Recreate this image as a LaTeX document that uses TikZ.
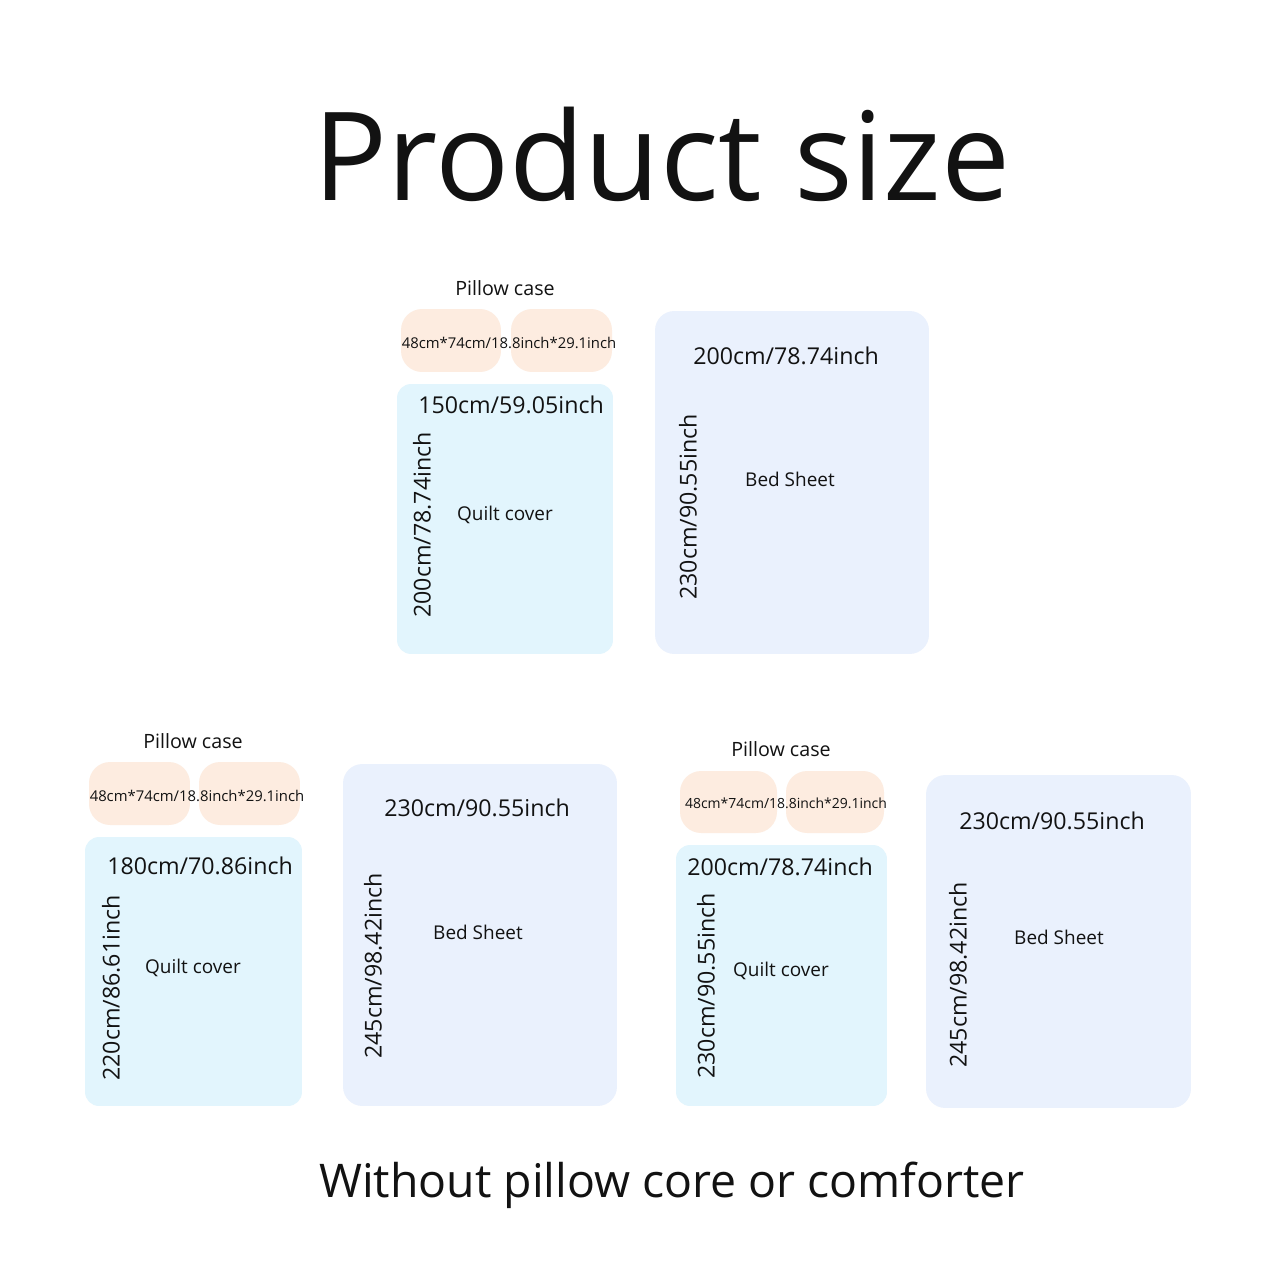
\documentclass[tikz,border=0pt]{standalone}
\usepackage{fontspec}
\setmainfont{Open Sans}
\usetikzlibrary{positioning}
\definecolor{pillowFill}{RGB}{253,236,224}
\definecolor{quiltFill}{RGB}{226,245,253}
\definecolor{sheetFill}{RGB}{234,241,253}
\definecolor{inkBlack}{RGB}{18,18,18}
\tikzset{
	pbox/.style={
		fill=pillowFill,
		rounded corners=12pt,
		inner sep=0pt,
		minimum height=1.26cm
	},
	qbox/.style={
		fill=quiltFill,
		rounded corners=8pt,
		inner sep=0pt
	},
	sbox/.style={
		fill=sheetFill,
		rounded corners=11pt,
		inner sep=0pt
	},
	dimlbl/.style={text=inkBlack, inner sep=0pt, font=\fontsize{13.2}{16}\selectfont},
	namelbl/.style={text=inkBlack, inner sep=0pt, font=\fontsize{10.8}{13}\selectfont},
	plbl/.style={text=inkBlack, inner sep=0pt, font=\fontsize{8.45}{10}\selectfont}
}

\begin{document}
\begin{tikzpicture}[x=0.02cm, y=-0.02cm]
		\useasboundingbox[fill=white] (0,0) rectangle (1280,1280);
		\node[text=inkBlack, inner sep=0pt, font=\fontsize{70}{80}\selectfont] (title) at (662,154) {Product size};
		% top set
		\node[namelbl, font=\fontsize{11.2}{13}\selectfont] (pcTop) at (505,288) {Pillow case};
		\node[pbox, minimum width=2.0cm] (pTopA) at (451,340.5) {};
		\node[pbox, minimum width=2.02cm] (pTopB) at (561.5,340.5) {};
		\node[plbl] (pTopTxt) at (509,343) {48cm*74cm/18.8inch*29.1inch};
		\node[qbox, minimum width=4.32cm, minimum height=5.4cm] (qTop) at (505,519) {};
		\node[dimlbl] (qTopW) at (511,405) {150cm/59.05inch};
		\node[dimlbl, rotate=90] (qTopH) at (422,525) {200cm/78.74inch};
		\node[namelbl] (qTopTxt) at (505,515) {Quilt cover};
		\node[sbox, minimum width=5.48cm, minimum height=6.86cm] (sTop) at (792,482.5) {};
		\node[dimlbl] (sTopW) at (786,356) {200cm/78.74inch};
		\node[dimlbl, rotate=90] (sTopH) at (688,507) {230cm/90.55inch};
		\node[namelbl] (sTopTxt) at (790,479) {Bed Sheet};
		% bottom left set
		\node[namelbl, font=\fontsize{11.2}{13}\selectfont] (pcLeft) at (193,741) {Pillow case};
		\node[pbox, minimum width=2.02cm] (pLeftA) at (139.5,793.5) {};
		\node[pbox, minimum width=2.02cm] (pLeftB) at (249.5,793.5) {};
		\node[plbl] (pLeftTxt) at (197,796) {48cm*74cm/18.8inch*29.1inch};
		\node[qbox, minimum width=4.34cm, minimum height=5.38cm] (qLeft) at (193.5,971.5) {};
		\node[dimlbl] (qLeftW) at (200,866) {180cm/70.86inch};
		\node[dimlbl, rotate=90] (qLeftH) at (111,988) {220cm/86.61inch};
		\node[namelbl] (qLeftTxt) at (193,968) {Quilt cover};
		\node[sbox, minimum width=5.48cm, minimum height=6.84cm] (sLeft) at (480,935) {};
		\node[dimlbl] (sLeftW) at (477,808) {230cm/90.55inch};
		\node[dimlbl, rotate=90] (sLeftH) at (373,966) {245cm/98.42inch};
		\node[namelbl] (sLeftTxt) at (478,932) {Bed Sheet};
		% bottom right set
		\node[namelbl, font=\fontsize{11.2}{13}\selectfont] (pcRight) at (781,749) {Pillow case};
		\node[pbox, minimum width=1.94cm, minimum height=1.24cm] (pRightA) at (728.5,802) {};
		\node[pbox, minimum width=1.96cm, minimum height=1.24cm] (pRightB) at (835,802) {};
		\node[plbl, font=\fontsize{7.95}{9}\selectfont] (pRightTxt) at (786,803) {48cm*74cm/18.8inch*29.1inch};
		\node[qbox, minimum width=4.22cm, minimum height=5.22cm] (qRight) at (781.5,975.5) {};
		\node[dimlbl] (qRightW) at (780,867) {200cm/78.74inch};
		\node[dimlbl, rotate=90] (qRightH) at (706,986) {230cm/90.55inch};
		\node[namelbl] (qRightTxt) at (781,971) {Quilt cover};
		\node[sbox, minimum width=5.3cm, minimum height=6.66cm] (sRight) at (1058.5,941.5) {};
		\node[dimlbl] (sRightW) at (1052,821) {230cm/90.55inch};
		\node[dimlbl, rotate=90] (sRightH) at (958,975) {245cm/98.42inch};
		\node[namelbl] (sRightTxt) at (1059,937) {Bed Sheet};
		\node[text=inkBlack, inner sep=0pt, font=\fontsize{26.4}{32}\selectfont] (note) at (672,1185) {Without pillow core or comforter};
	\end{tikzpicture}
\end{document}
